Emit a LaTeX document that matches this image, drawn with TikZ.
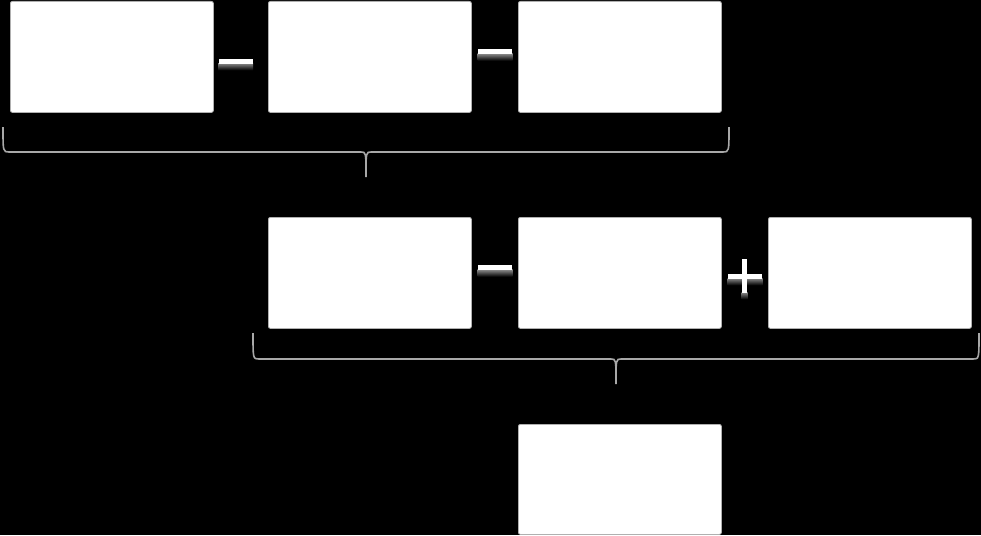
\documentclass[tikz,border=0pt]{standalone}
\usetikzlibrary{calc}
\definecolor{bracegray}{HTML}{A8A8A8}
\definecolor{boxedge}{HTML}{B0B0B0}
\definecolor{glowtop}{HTML}{8A8A8A}
\tikzset{
  x=1pt, y=-1pt,
  card/.style={draw=boxedge, line width=0.8pt, fill=white, rounded corners=2pt,
    minimum width=203pt, minimum height=111pt, inner sep=0pt, anchor=north west},
  bar/.style={fill=white, draw=none, inner sep=0pt, minimum width=34pt, minimum height=5pt},
  vbar/.style={fill=white, draw=none, inner sep=0pt, minimum width=5pt, minimum height=34pt},
  glow/.style={draw=none, top color=glowtop, bottom color=black, inner sep=0pt,
    minimum width=35pt, minimum height=7pt, anchor=north},
  bracepath/.style={draw=bracegray, line width=1.6pt},
}
\newcommand{\minusop}[3]{%
  \node[glow] at (#2,#3+2) {};
  \node[bar] (#1) at (#2,#3) {};
}
\newcommand{\mybrace}[5]{% x1, x2, xtip, ytop, ymid ; tip bottom = ymid+25
  \draw[bracepath] (#1,#4) .. controls (#1,#5) and (#1,#5) .. (#1+6,#5)
    -- (#3-5,#5) .. controls (#3,#5) and (#3,#5) .. (#3,#5+25)
    (#3,#5+25) .. controls (#3,#5) and (#3,#5) .. (#3+5,#5)
    -- (#2-6,#5) .. controls (#2,#5) and (#2,#5) .. (#2,#4);
}
\begin{document}
\begin{tikzpicture}
\fill[black] (0,0) rectangle (981,535);
\useasboundingbox (0,0) rectangle (981,535);
% row 1
\node[card] (b1) at (10,1) {};
\node[card] (b2) at (268,1) {};
\node[card] (b3) at (518,1) {};
% row 2
\node[card] (b4) at (268,217) {};
\node[card] (b5) at (518,217) {};
\node[card] (b6) at (768,217) {};
% row 3
\node[card, minimum height=110pt] (b7) at (518,424) {};
% operators
\minusop{m1}{235.5}{61}
\minusop{m2}{495}{51.5}
\minusop{m3}{495}{267.5}
\node[glow] at (745,278) {};
\node[glow, minimum width=6pt] at (744.5,292) {};
\node[vbar] (pv) at (744.5,276) {};
\node[bar] (p1) at (745,276) {};
% braces
\mybrace{3}{729}{366}{127}{152}
\mybrace{253}{979}{616}{333}{359}
\end{tikzpicture}
\end{document}
